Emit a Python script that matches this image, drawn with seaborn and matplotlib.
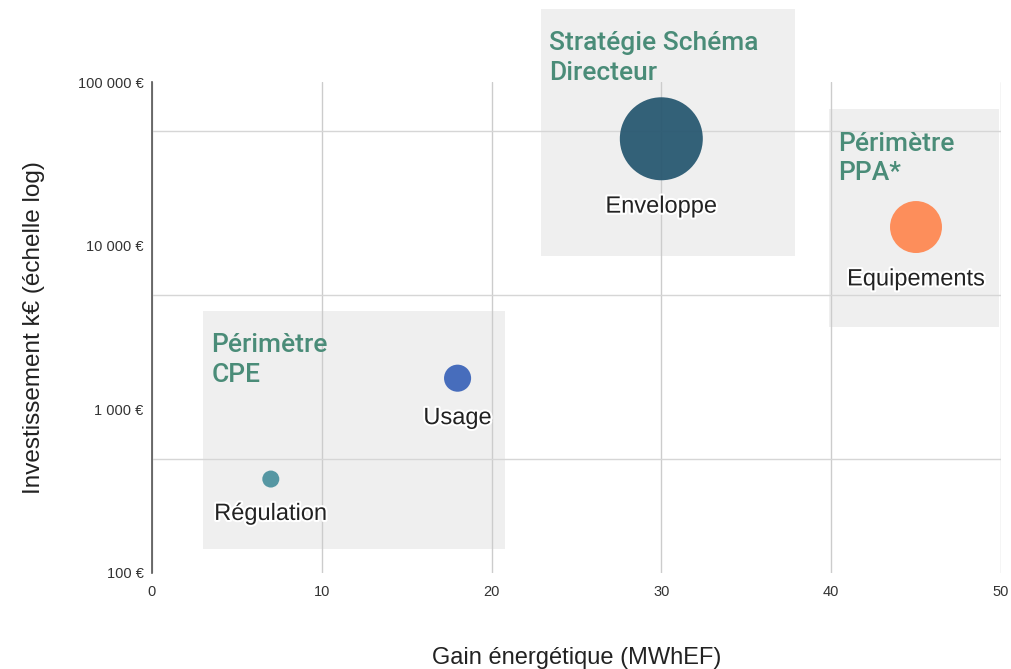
import numpy as np
import pandas as pd
import seaborn as sns
import matplotlib.pyplot as plt
import matplotlib.patheffects as pe
from matplotlib.patches import Rectangle
from matplotlib.ticker import FuncFormatter

# données des actions
noms = ["Régulation", "Usage", "Enveloppe", "Equipements"]
gain = [7, 18, 30, 45]                      # MWhEF
invest = [375, 1550, 45000, 13000]          # k€
taille = [150, 380, 3570, 1400]             # taille relative des bulles
couleurs = ["#4a919e", "#3a63b8", "#25566f", "#ff8750"]

# périmètres (zones grises)
zones = ["Périmètre\nCPE", "Stratégie Schéma\nDirecteur", "Périmètre\nPPA*"]
zone_x = [(3, 20.8), (22.9, 37.9), (39.9, 49.9)]
zone_y = [(140, 4000), (8700, 280000), (3200, 68000)]

df = pd.DataFrame({"nom": noms, "gain": gain, "invest": invest, "taille": taille})

sns.set_style("white")
plt.rcParams['font.family'] = ['Liberation Sans', 'DejaVu Sans']

fig = plt.figure(figsize=(10.11, 6.69), dpi=100)
ax = fig.add_axes([0.1503, 0.1435, 0.8397, 0.7339])

ax.set_yscale("log")
ax.set_xlim(0, 50)
ax.set_ylim(100, 100000)

for (x0, x1), (y0, y1), titre in zip(zone_x, zone_y, zones):
    ax.add_patch(Rectangle((x0, y0), x1 - x0, y1 - y0, facecolor="#efefef",
                           edgecolor="none", zorder=0.2, clip_on=False))
    ax.annotate(titre, xy=(x0, y1), xytext=(6, -16), textcoords="offset points",
                ha="left", va="top", fontsize=19, color="#4a8c78",
                family=["Roboto", "DejaVu Sans"], fontweight="medium",
                linespacing=1.3, annotation_clip=False)

sns.scatterplot(data=df, x="gain", y="invest", hue="nom", palette=couleurs,
                size="taille", sizes=(150, 3570), alpha=0.93, edgecolor="none",
                legend=False, ax=ax, zorder=3)

halo = [pe.withStroke(linewidth=3, foreground="white")]
for n, gx, iv, t in zip(noms, gain, invest, taille):
    r = np.sqrt(t) / 2
    ax.annotate(n, xy=(gx, iv), xytext=(0, -(r + 19)), textcoords="offset points",
                ha="center", va="center", fontsize=17, color="#222222",
                path_effects=halo, zorder=4)

ax.set_xticks([0, 10, 20, 30, 40, 50])
ax.set_yticks([100, 1000, 10000, 100000])
ax.set_yticks([500, 5000, 50000], minor=True)
ax.yaxis.set_major_formatter(FuncFormatter(lambda v, p: f"{v:,.0f}".replace(",", " ") + " €"))
ax.yaxis.set_minor_formatter(FuncFormatter(lambda v, p: ""))
ax.tick_params(axis="both", which="both", length=0, labelsize=10.5, colors="#333333")
ax.tick_params(axis="x", pad=9)
ax.tick_params(axis="y", pad=6)

ax.set_axisbelow(True)
ax.xaxis.grid(True, color="#cccccc", linewidth=1)
ax.yaxis.grid(True, which="minor", color="#d6d6d6", linewidth=1)
ax.yaxis.grid(False, which="major")

for s in ["top", "right", "bottom"]:
    ax.spines[s].set_visible(False)
ax.spines["left"].set_color("#555555")
ax.spines["left"].set_linewidth(1.2)

ax.set_xlabel("Gain énergétique (MWhEF)", fontsize=17, color="#222222", labelpad=34)
ax.set_ylabel("Investissement k€ (échelle log)", fontsize=17.5, color="#222222", labelpad=24)

fig.savefig("out.png", dpi=100)
